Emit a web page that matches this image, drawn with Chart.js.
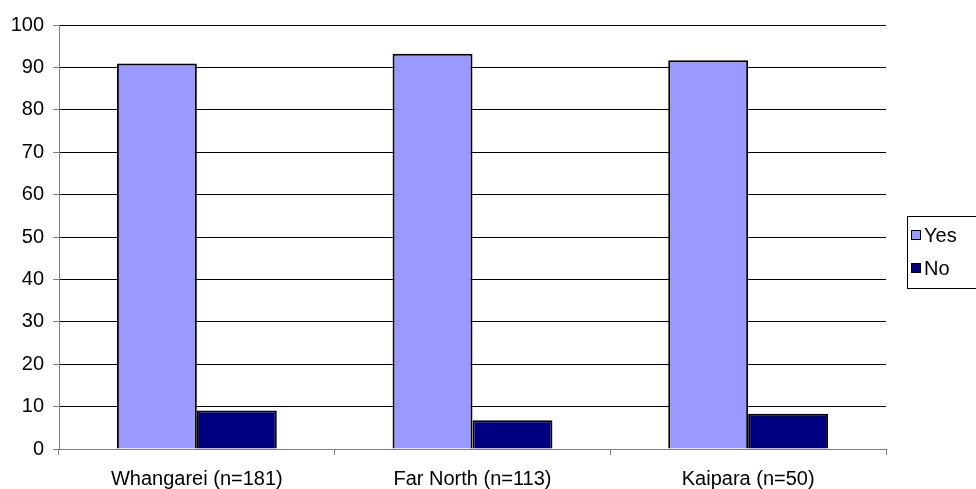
<!DOCTYPE html>
<html>
<head>
<meta charset="utf-8">
<script src="https://cdn.jsdelivr.net/npm/chart.js@4/dist/chart.umd.min.js"></script>
<style>
  html, body { margin: 0; padding: 0; background: #fff; }
  #wrap { width: 976px; height: 489px; position: relative; }
</style>
</head>
<body>
<div id="wrap"><canvas id="grafico"></canvas></div>
<script>
const categorias = ['Whangarei (n=181)', 'Far North (n=113)', 'Kaipara (n=50)'];
const valoresYes = [90.9, 93.2, 91.7];
const valoresNo = [9.1, 6.8, 8.3];
const nomesSeries = ['Yes', 'No'];
const coresSeries = ['#9999ff', '#000080'];

const fonte = { family: 'Arial, "Liberation Sans", sans-serif', size: 20 };

// legenda desenhada à mão, caixa à direita como no original
const legendaCaixa = {
    id: 'legendaCaixa',
    afterDraw(chart) {
        const ctx = chart.ctx;
        ctx.save();
        ctx.strokeStyle = '#000';
        ctx.lineWidth = 1;
        ctx.strokeRect(907.5, 216.5, 80, 72);
        chart.data.datasets.forEach((ds, i) => {
            const y = 235 + i * 33;
            ctx.fillStyle = ds.backgroundColor;
            ctx.fillRect(911, y - 5, 10, 10);
            ctx.strokeRect(911.5, y - 4.5, 9, 9);
            ctx.fillStyle = '#000';
            ctx.font = '20px Arial, "Liberation Sans", sans-serif';
            ctx.textBaseline = 'middle';
            ctx.fillText(ds.label, 924, y + 1);
        });
        ctx.restore();
    }
};

new Chart(document.getElementById('grafico'), {
    type: 'bar',
    data: {
        labels: categorias,
        datasets: [
            { label: nomesSeries[0], data: valoresYes, backgroundColor: coresSeries[0], borderColor: '#000', borderWidth: 2 },
            { label: nomesSeries[1], data: valoresNo, backgroundColor: coresSeries[1], borderColor: '#000', borderWidth: 2 }
        ]
    },
    options: {
        responsive: true,
        maintainAspectRatio: false,
        animation: false,
        layout: { padding: { top: 25, right: 90, left: 0, bottom: 0 } },
        datasets: { bar: { categoryPercentage: 0.58, barPercentage: 1 } },
        plugins: { legend: { display: false }, tooltip: { enabled: false } },
        scales: {
            x: {
                grid: { offset: true, drawOnChartArea: false, tickLength: 6, color: '#808080' },
                border: { color: '#808080' },
                ticks: { color: '#000', font: fonte, padding: 12, maxRotation: 0 },
                afterFit(s) { s.height = 40; }
            },
            y: {
                min: 0, max: 100,
                grid: { color: '#000', tickLength: 6, tickColor: '#808080' },
                border: { color: '#808080' },
                ticks: { stepSize: 10, color: '#000', font: fonte, padding: 9 },
                afterFit(s) { s.width = 59; }
            }
        }
    },
    plugins: [legendaCaixa]
});
</script>
</body>
</html>
